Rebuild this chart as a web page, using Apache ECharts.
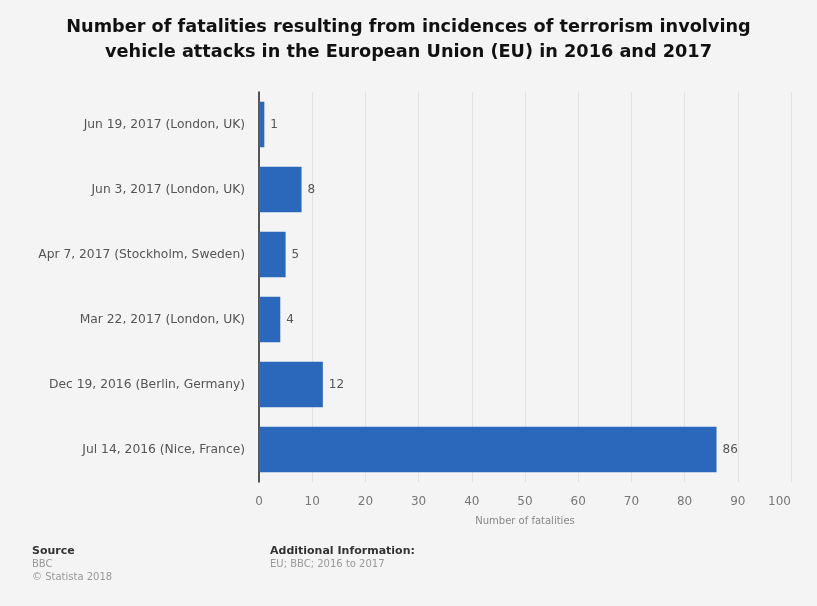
<!DOCTYPE html>
<html>
<head>
<meta charset="utf-8">
<script src="https://cdn.jsdelivr.net/npm/echarts@6/dist/echarts.min.js"></script>
<style>
  html, body { margin: 0; padding: 0; background: #f4f4f4; }
  #chart { width: 817px; height: 606px; }
</style>
</head>
<body>
<div id="chart"></div>
<script>
const categories = [
  'Jul 14, 2016 (Nice, France)',
  'Dec 19, 2016 (Berlin, Germany)',
  'Mar 22, 2017 (London, UK)',
  'Apr 7, 2017 (Stockholm, Sweden)',
  'Jun 3, 2017 (London, UK)',
  'Jun 19, 2017 (London, UK)'
];
const fatalities = [86, 12, 4, 5, 8, 1];
const xTicks = [0, 10, 20, 30, 40, 50, 60, 70, 80, 90, 100];

const chart = echarts.init(document.getElementById('chart'));

const option = {
  backgroundColor: '#f4f4f4',
  textStyle: { fontFamily: 'DejaVu Sans' },
  title: [
    {
      text: 'Number of fatalities resulting from incidences of terrorism involving\nvehicle attacks in the European Union (EU) in 2016 and 2017',
      left: 'center',
      top: 15,
      padding: 0,
      textStyle: { fontSize: 17.7, fontWeight: 'bold', color: '#111', lineHeight: 25, fontFamily: 'DejaVu Sans' }
    },
    {
      text: 'Source',
      left: 32,
      top: 546,
      padding: 0,
      textStyle: { fontSize: 11, fontWeight: 'bold', color: '#333' },
      subtext: 'BBC\n© Statista 2018',
      subtextStyle: { fontSize: 10, color: '#999', lineHeight: 13 },
      itemGap: 1
    },
    {
      text: 'Additional Information:',
      left: 270,
      top: 546,
      padding: 0,
      textStyle: { fontSize: 11, fontWeight: 'bold', color: '#333' },
      subtext: 'EU; BBC; 2016 to 2017',
      subtextStyle: { fontSize: 10, color: '#999' },
      itemGap: 2
    }
  ],
  grid: {
    left: 259,
    right: 26,
    top: 92,
    bottom: 124,
    containLabel: false
  },
  xAxis: {
    type: 'value',
    min: 0,
    max: 100,
    interval: 10,
    name: 'Number of fatalities',
    nameLocation: 'middle',
    nameGap: 34,
    nameTextStyle: { fontSize: 10, color: '#888' },
    axisLine: { show: false },
    axisTick: { show: false },
    axisLabel: {
      fontSize: 12,
      color: '#777',
      margin: 14,
      alignMaxLabel: 'right',
      formatter: v => (xTicks.includes(v) ? String(v) : '')
    },
    splitLine: { show: true, lineStyle: { color: '#e2e2e2', width: 1 } }
  },
  yAxis: {
    type: 'category',
    data: categories,
    axisLine: { show: true, lineStyle: { color: '#222', width: 1.5 } },
    axisTick: { show: false },
    axisLabel: { fontSize: 12.3, color: '#555', margin: 14 }
  },
  series: [
    {
      type: 'bar',
      data: fatalities,
      barWidth: '70%',
      itemStyle: { color: '#2b67bb' },
      label: {
        show: true,
        position: 'right',
        distance: 6,
        fontSize: 12,
        color: '#555'
      }
    }
  ]
};

chart.setOption(option);
</script>
</body>
</html>
